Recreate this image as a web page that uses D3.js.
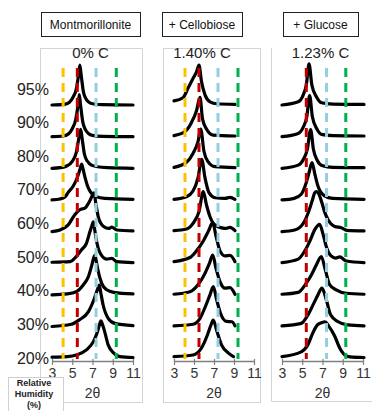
<!DOCTYPE html>
<html>
<head>
<meta charset="utf-8">
<script src="https://cdn.jsdelivr.net/npm/d3@7"></script>
<style>
  body { margin: 0; background: #fff; }
  svg { display: block; font-family: Arial, "Liberation Sans", sans-serif; }
</style>
</head>
<body>
<svg id="chart" width="372" height="411"></svg>
<script>
// relative humidity of each stacked trace, top to bottom
const humidity = ["95%", "90%", "80%", "70%", "60%", "50%", "40%", "30%", "20%"];
const xTicks = [3, 5, 7, 9, 11];
const sampleNames = ["Montmorillonite", "+ Cellobiose", "+ Glucose"];
const carbonLabels = ["0% C", "1.40% C", "1.23% C"];

// reference peak positions (2θ) for the dashed lines: orange, red, blue, green
const montRefs = [4.1, 5.5, 7.35, 9.35];
const celloRefs = [4.1, 5.5, 7.4, 9.4];
const glucoRefs = [null, 5.4, 7.4, 9.3];

// XRD traces, [2θ, intensity], 95% first
const montTraces = [
  [[3,0],[4.2,0.02],[4.7,0.08],[5.1,0.26],[5.4,0.5],[5.6,0.9],[5.75,1.26],[5.88,0.95],[6.1,0.42],[6.35,0.2],[6.6,0.1],[7.0,0.04],[8,0.01],[11,0]],
  [[3,0],[4.1,0.02],[4.6,0.08],[5.0,0.25],[5.35,0.55],[5.55,0.95],[5.7,1.33],[5.82,1.0],[6.05,0.45],[6.3,0.22],[6.6,0.1],[7.0,0.04],[8,0.01],[11,0]],
  [[3,0],[3.8,0.02],[4.5,0.08],[5.0,0.22],[5.4,0.5],[5.65,0.95],[5.83,1.23],[5.97,0.95],[6.2,0.45],[6.5,0.22],[6.9,0.1],[7.5,0.05],[8.5,0.02],[11,0]],
  [[3,0],[3.8,0.03],[4.3,0.1],[4.6,0.24],[5.1,0.44],[5.5,0.71],[5.75,0.95],[5.93,1.13],[6.05,1.0],[6.26,0.71],[6.5,0.45],[6.75,0.28],[7.1,0.15],[7.4,0.1],[8.2,0.05],[11,0.02]],
  [[3,0],[3.8,0.05],[4.6,0.21],[5.25,0.53],[5.75,0.69],[6.25,0.74],[6.7,0.95],[7.0,1.15],[7.15,1.22],[7.35,0.84],[7.6,0.43],[8.1,0.16],[8.6,0.1],[8.9,0.14],[9.4,0.05],[11,0.02]],
  [[3,0.03],[4.8,0.05],[5.25,0.16],[5.9,0.42],[6.4,0.63],[6.75,1.0],[6.95,1.2],[7.08,1.31],[7.2,1.1],[7.35,0.79],[7.75,0.32],[8.4,0.13],[8.9,0.15],[9.4,0.05],[11,0.02]],
  [[3,0],[4.5,0.03],[5.4,0.1],[6.1,0.32],[6.6,0.58],[6.9,0.9],[7.1,1.15],[7.25,1.26],[7.35,1.1],[7.5,0.84],[7.9,0.37],[8.4,0.16],[9.1,0.08],[11,0.03]],
  [[3,0],[4.9,0.07],[5.7,0.21],[6.6,0.47],[7.2,0.9],[7.5,1.18],[7.67,1.31],[7.8,1.1],[8.05,0.68],[8.55,0.26],[9.2,0.1],[11,0.03]],
  [[3,0.03],[4.5,0.05],[5.4,0.1],[6.4,0.26],[7.1,0.53],[7.5,0.84],[7.75,1.12],[7.84,1.18],[7.95,1.1],[8.2,0.84],[8.55,0.42],[9.1,0.16],[9.7,0.05],[11,0.02]]
];
const celloTraces = [
  [[3,0.13],[3.9,0.23],[4.4,0.53],[4.9,0.84],[5.25,1.05],[5.5,1.26],[5.75,0.74],[6.1,0.32],[6.6,0.1],[7.3,0.04],[9.1,0.02]],
  [[3,0.03],[4.1,0.16],[4.75,0.45],[5.25,0.82],[5.6,1.24],[5.85,0.56],[6.25,0.24],[6.9,0.05],[9.1,0.02]],
  [[3,0.03],[4.25,0.19],[4.9,0.47],[5.4,0.84],[5.67,1.24],[6.0,0.53],[6.4,0.21],[7.1,0.05],[9.1,0.02]],
  [[3,0.02],[4.25,0.1],[4.9,0.28],[5.4,0.7],[5.77,1.28],[6.1,0.7],[6.5,0.23],[7.1,0.07],[8.1,0.05],[8.6,0.08],[9.1,0.02]],
  [[3,0.03],[4.25,0.08],[4.9,0.26],[5.5,0.63],[5.93,1.26],[6.25,0.84],[6.6,0.47],[7.1,0.21],[8.1,0.1],[8.6,0.13],[9.1,0.03]],
  [[3,0.05],[4.6,0.18],[5.25,0.39],[5.93,0.7],[6.45,1.02],[6.87,1.28],[7.2,0.86],[7.6,0.39],[8.1,0.23],[8.6,0.25],[9.1,0.05]],
  [[3,0.02],[4.6,0.1],[5.4,0.32],[6.1,0.68],[6.55,1.0],[6.87,1.26],[7.2,0.84],[7.6,0.42],[8.1,0.21],[8.6,0.23],[9.1,0.02]],
  [[3,0.02],[4.9,0.07],[5.6,0.26],[6.2,0.68],[6.6,1.0],[6.93,1.26],[7.27,0.84],[7.65,0.42],[8.25,0.16],[8.8,0.15],[9.1,0.02]],
  [[3,0.05],[4.9,0.1],[5.75,0.32],[6.35,0.74],[6.7,1.05],[6.93,1.2],[7.3,0.84],[7.75,0.42],[8.45,0.16],[8.95,0.05]]
];
const glucoTraces = [
  [[3,0],[4.6,0.1],[5.1,0.32],[5.4,0.63],[5.67,1.3],[5.95,0.63],[6.4,0.26],[6.9,0.07],[8,0.03],[11.1,0.02]],
  [[3,0],[4.6,0.1],[5.1,0.3],[5.45,0.63],[5.73,1.3],[6.0,0.63],[6.45,0.24],[6.9,0.07],[8,0.03],[11.1,0.02]],
  [[3,0],[4.6,0.1],[5.15,0.3],[5.5,0.6],[5.83,1.22],[6.1,0.6],[6.5,0.24],[7.0,0.08],[8,0.03],[11.1,0.02]],
  [[3,0],[4.2,0.05],[4.9,0.18],[5.4,0.55],[5.7,0.9],[5.96,1.18],[6.25,0.81],[6.55,0.44],[7.2,0.13],[8,0.05],[11.1,0.02]],
  [[3,0],[4.25,0.05],[5.1,0.26],[5.57,0.58],[5.96,0.95],[6.23,1.22],[6.4,1.26],[6.62,1.2],[6.95,0.9],[7.2,0.63],[7.55,0.37],[8.2,0.16],[8.85,0.12],[9.4,0.04],[11.1,0.02]],
  [[3,0.02],[4.6,0.13],[5.25,0.39],[5.75,0.7],[6.25,1.07],[6.72,1.23],[7.05,0.92],[7.4,0.5],[7.85,0.23],[8.3,0.16],[8.7,0.2],[9.35,0.07],[11.1,0.02]],
  [[3,0.02],[4.6,0.08],[5.4,0.37],[5.9,0.63],[6.4,0.95],[6.88,1.21],[7.28,0.79],[7.7,0.32],[8.35,0.16],[9.35,0.05],[11.1,0.02]],
  [[3,0.02],[4.9,0.1],[5.57,0.37],[6.15,0.74],[6.55,1.0],[6.95,1.21],[7.38,0.84],[7.8,0.37],[8.5,0.16],[9.5,0.05],[11.1,0.02]],
  [[3,0.05],[4.9,0.2],[5.55,0.42],[6.05,0.8],[6.5,1.05],[6.9,1.12],[7.25,1.15],[7.6,1.02],[8.2,0.7],[8.7,0.32],[9.2,0.1],[9.7,0.04],[11.1,0.02]]
];

const refColors = ["#FFC000", "#C00000", "#92CFDF", "#00B050"];

// panel layout
const panels = [
  { name: sampleNames[0], carbon: carbonLabels[0], refs: montRefs, traces: montTraces,
    range: [52, 133], frame: [40, 48, 142, 402], head: [41, 12, 140, 36], sides: "all" },
  { name: sampleNames[1], carbon: carbonLabels[1], refs: celloRefs, traces: celloTraces,
    range: [174, 254], frame: [163, 48, 260, 402], head: [162, 12, 242, 36], sides: "all" },
  { name: sampleNames[2], carbon: carbonLabels[2], refs: glucoRefs, traces: glucoTraces,
    range: [282, 363], frame: [271, 48, 380, 401], head: [283, 12, 358, 36], sides: "open" }
];

const svg = d3.select("#chart");
const axisY = 361;

// stacked offset scale: one unit per humidity step
const y = d3.scaleLinear().domain([-0.09, 8]).range([axisY, 105]);
const labelY = d3.scalePoint().domain(humidity).range([89, 358]);

panels.forEach(p => {
  const x = d3.scaleLinear().domain([3, 11]).range(p.range);
  const [fx0, fy0, fx1, fy1] = p.frame;
  const g = svg.append("g");

  // light frame
  if (p.sides === "all") {
    g.append("rect")
      .attr("x", fx0 + 0.5).attr("y", fy0 + 0.5)
      .attr("width", fx1 - fx0).attr("height", fy1 - fy0)
      .attr("fill", "none").attr("stroke", "#d4d4d4");
  } else {
    g.append("path")
      .attr("d", `M${fx0 + 0.5},${fy0}V${fy1 + 0.5}H${fx1}`)
      .attr("fill", "none").attr("stroke", "#d4d4d4");
  }

  // header box
  const [hx0, hy0, hx1, hy1] = p.head;
  g.append("rect")
    .attr("x", hx0 + 0.5).attr("y", hy0 + 0.5)
    .attr("width", hx1 - hx0).attr("height", hy1 - hy0)
    .attr("fill", "#fff").attr("stroke", "#222");
  g.append("text")
    .attr("x", (hx0 + hx1) / 2).attr("y", (hy0 + hy1) / 2 + 4.5)
    .attr("text-anchor", "middle")
    .attr("font-size", "12px").attr("fill", "#111")
    .text(p.name);

  g.append("text")
    .attr("x", (hx0 + hx1) / 2).attr("y", 58)
    .attr("text-anchor", "middle")
    .attr("font-size", "15px").attr("fill", "#222")
    .text(p.carbon);

  // traces
  const line = d3.line()
    .x(d => x(d[0]))
    .curve(d3.curveMonotoneX);
  p.traces.forEach((tr, k) => {
    const off = humidity.length - 1 - k;
    g.append("path")
      .datum(tr)
      .attr("d", line.y(d => y(off + d[1])))
      .attr("fill", "none")
      .attr("stroke", "#000")
      .attr("stroke-width", 3.2)
      .attr("stroke-linejoin", "round")
      .attr("stroke-linecap", "round");
  });

  // dashed reference lines
  p.refs.forEach((r, i) => {
    if (r === null) return;
    g.append("line")
      .attr("x1", x(r)).attr("x2", x(r))
      .attr("y1", 68).attr("y2", 359)
      .attr("stroke", refColors[i])
      .attr("stroke-width", 3)
      .attr("stroke-dasharray", "9,6");
  });

  // x axis
  const ax = g.append("g")
    .attr("transform", `translate(0,${axisY})`)
    .call(d3.axisBottom(x).tickValues(xTicks).tickSizeInner(4).tickSizeOuter(0).tickPadding(3));
  ax.select(".domain").attr("stroke", "#7f7f7f").attr("stroke-width", 1.5);
  ax.selectAll(".tick line").attr("stroke", "#7f7f7f").attr("y1", -2).attr("stroke-width", 1.2);
  ax.selectAll(".tick text")
    .attr("font-size", "14px").attr("fill", "#333")
    .attr("font-family", "Arial, 'Liberation Sans', sans-serif");

  g.append("text")
    .attr("x", x(7)).attr("y", 398)
    .attr("text-anchor", "middle")
    .attr("font-size", "14px").attr("fill", "#333")
    .text("2θ");
});

// humidity labels on the left
svg.append("g").selectAll("text")
  .data(humidity)
  .join("text")
  .attr("x", 49)
  .attr("y", d => labelY(d) + 5.5)
  .attr("text-anchor", "end")
  .attr("font-size", "16px")
  .attr("fill", "#222")
  .text(d => d);

// "Relative Humidity (%)" box
const rh = svg.append("g");
rh.append("rect")
  .attr("x", 8.5).attr("y", 377.5)
  .attr("width", 55).attr("height", 40)
  .attr("fill", "#fff").attr("stroke", "#cfcfcf");
["Relative", "Humidity", "(%)"].forEach((t, i) => {
  rh.append("text")
    .attr("x", 34).attr("y", 385.5 + i * 11.3)
    .attr("text-anchor", "middle")
    .attr("font-size", "9px").attr("font-weight", "bold")
    .attr("fill", "#222")
    .text(t);
});
</script>
</body>
</html>
